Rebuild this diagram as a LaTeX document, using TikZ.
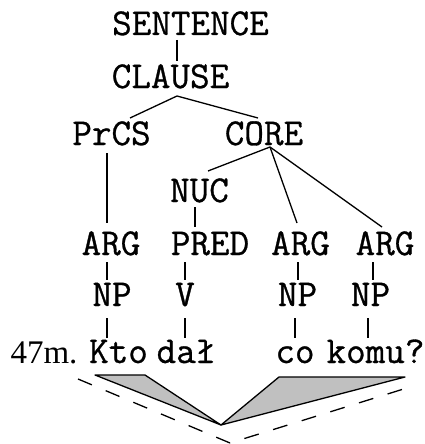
\documentclass[tikz,border=0pt]{standalone}
\usepackage{fontspec}
\setmainfont{Liberation Serif}
\newfontfamily\treefont[FakeBold=0.8]{Latin Modern Mono}
\usetikzlibrary{calc}
\definecolor{shade}{HTML}{C0C0C0}
\tikzset{
  lab/.style={inner sep=0pt, anchor=base, font=\treefont\fontsize{38}{44}\selectfont},
  word/.style={inner sep=0pt, anchor=base, font=\fontsize{33}{40}\selectfont},
  edge/.style={draw=black, line width=1.3pt},
  span/.style={draw=black, line width=1.3pt, fill=shade, line join=round},
  track/.style={draw=black, line width=1.3pt, dash pattern=on 15pt off 15pt}
}
\begin{document}
\begin{tikzpicture}[x=1pt, y=-1pt]
\useasboundingbox (0,0) rectangle (425,444);
% clause-level labels
\node[lab] (sent)   at (190.5,35) {SENTENCE};
\node[lab] (clause) at (170.5,88) {CLAUSE};
\node[lab] (prcs)   at (111.5,145) {PrCS};
\node[lab] (core)   at (264,145) {CORE};
\node[lab] (nuc)    at (199.5,202) {NUC};
\node[lab] (arga)   at (111,255) {ARG};
\node[lab] (pred)   at (210,255) {PRED};
\node[lab] (argb)   at (300.5,255) {ARG};
\node[lab] (argc)   at (385,255) {ARG};
\node[lab] (npa)    at (112,306) {NP};
\node[lab] (verb)   at (185,306) {V};
\node[lab] (npb)    at (297.5,306) {NP};
\node[lab] (npc)    at (370.5,306) {NP};
% the example sentence
\node[word] (num)  at (44,363) {47m.};
\node[lab]  (kto)  at (118.5,363) {Kto};
\node[lab]  (dal)  at (186,363) {dał};
\node[lab]  (co)   at (295,363) {co};
\node[lab]  (komu) at (375.5,363) {komu?};
% branches
\draw[edge] ($(sent.base)+(-13.5,5)$) -- ($(clause.base)+(6.5,-27)$);
\draw[edge] ($(prcs.base)+(18.5,-27)$) -- ($(clause.base)+(6.5,8)$) -- ($(core.base)+(-6,-27)$);
\draw[edge] ($(prcs.base)+(-4.5,8)$) -- ($(arga.base)+(-4,-32)$);
\draw[edge] ($(core.base)+(6,2)$) -- ($(nuc.base)+(8.5,-31)$);
\draw[edge] ($(core.base)+(6,2)$) -- ($(argb.base)+(-3.5,-32)$);
\draw[edge] ($(core.base)+(6,2)$) -- ($(argc.base)+(-3,-28)$);
\draw[edge] ($(nuc.base)+(-4.5,5)$) -- ($(pred.base)+(-15,-28)$);
\draw[edge] ($(arga.base)+(-4,7)$) -- ($(npa.base)+(-5,-26)$);
\draw[edge] ($(pred.base)+(-25,7)$) -- ($(verb.base)+(0,-26)$);
\draw[edge] ($(argb.base)+(-2.5,7)$) -- ($(npb.base)+(0.5,-26)$);
\draw[edge] ($(argc.base)+(-12,7)$) -- ($(npc.base)+(2.5,-26)$);
\draw[edge] ($(npa.base)+(-5,12)$) -- ($(kto.base)+(-11.5,-25)$);
\draw[edge] ($(verb.base)+(0,12)$) -- ($(dal.base)+(-1,-25)$);
\draw[edge] ($(npb.base)+(-2.5,12)$) -- ($(co.base)+(0,-25)$);
\draw[edge] ($(npc.base)+(-2.5,12)$) -- ($(komu.base)+(-7.5,-25)$);
% linking wedges under the sentence
\coordinate (apex) at (221,425);
\draw[span] ($(kto.base)+(-23.5,12)$) -- ($(kto.base)+(26.5,12)$) -- (apex) -- cycle;
\draw[span] ($(co.base)+(-16,14)$) -- ($(komu.base)+(29.5,14)$) -- (apex) -- cycle;
% dashed track
\coordinate (tl) at (78,379);
\coordinate (tb) at (230,443);
\coordinate (tr) at (410,387);
\draw[track] (tl) -- (tb) -- (tr);
\end{tikzpicture}
\end{document}
